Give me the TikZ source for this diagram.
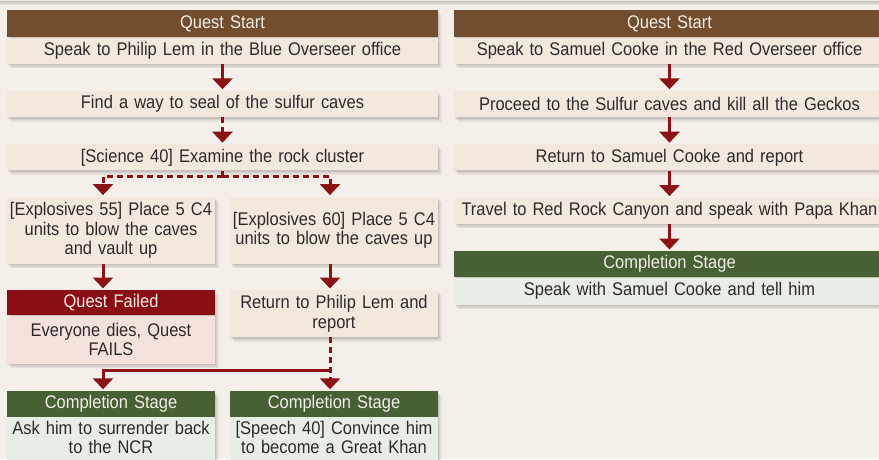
\documentclass[tikz,border=0pt]{standalone}
\usepackage{fontspec}
\setmainfont{Liberation Sans}[FakeStretch=0.9]
\usepackage{xcolor}
\usepackage{tikz}
\usetikzlibrary{positioning,arrows.meta,shadows}

\definecolor{pagebg}{HTML}{F5EFE9}
\definecolor{cardbg}{HTML}{F2E8DE}
\definecolor{startbrown}{HTML}{724E2F}
\definecolor{failred}{HTML}{8A0F14}
\definecolor{failbg}{HTML}{F5E1DB}
\definecolor{donegreen}{HTML}{476135}
\definecolor{donebg}{HTML}{E8EEE5}
\definecolor{linkred}{HTML}{8B1316}
\definecolor{inkgray}{HTML}{2B2B2B}
\definecolor{captext}{HTML}{F4EEE7}

\begin{document}
\begin{tikzpicture}[
  x=1pt, y=-1pt,
  every node/.style={font=\fontsize{18.3}{19.5}\selectfont, text=inkgray},
  soft/.style={general shadow={shadow xshift=1pt, shadow yshift=-1.5pt, fill=black, opacity=.07},
               general shadow={shadow xshift=2pt, shadow yshift=-3pt, fill=black, opacity=.07},
               general shadow={shadow xshift=3.5pt, shadow yshift=-4.5pt, fill=black, opacity=.06}},
  card/.style={soft, fill=cardbg, inner sep=0pt, minimum height=26pt, align=center},
  wide/.style={card, minimum width=431pt, text width=425pt},
  half/.style={card, minimum width=208pt, text width=204pt},
  startcap/.style={fill=startbrown, text=captext, minimum height=27pt},
  failcap/.style={fill=failred, text=captext, minimum height=25pt},
  donecap/.style={fill=donegreen, text=captext, minimum height=26pt},
  link/.style={line width=3pt, draw=linkred, shorten >=1.5pt,
               -{Triangle[width=20pt,length=11pt]}},
  dashlink/.style={link, dash pattern=on 6pt off 4pt},
  node distance=27pt
]

%% --- Page ----------------------------------------------------
\fill[pagebg] (0,0) rectangle (879,459);
\useasboundingbox (0,0) rectangle (879,459);
\node[card, minimum width=900pt, minimum height=40pt, anchor=south] (topcard) at (439.5,1) {};

%% --- Left column: Blue Overseer ------------------------------
\node[wide, startcap, anchor=north] (lstart) at (222.5,10) {Quest Start};
\node[wide, below=0pt of lstart] (lspeak) {Speak to Philip Lem in the Blue Overseer office};
\node[wide, below=of lspeak] (lfind) {Find a way to seal of the sulfur caves};
\node[wide, below=of lfind] (lsci) {[Science 40] Examine the rock cluster};

\node[half, minimum height=67pt, below right=26pt and 0pt of lsci.south west] (lex55)
     {[Explosives 55] Place 5 C4\\units to blow the caves\\and vault up};
\node[half, minimum height=67pt, below left=26pt and 0pt of lsci.south east] (lex60)
     {[Explosives 60] Place 5 C4\\units to blow the caves up};

\node[half, failcap, below=26pt of lex55] (lfailcap) {Quest Failed};
\node[half, fill=failbg, minimum height=48pt, below=0pt of lfailcap] (lfail)
     {Everyone dies, Quest\\FAILS};
\node[half, minimum height=47pt, below=26pt of lex60] (lret)
     {Return to Philip Lem and\\report};

\node[half, donecap, below=27pt of lfail] (lcompAcap) {Completion Stage};
\node[half, fill=donebg, minimum height=49pt, text depth=29pt, below=0pt of lcompAcap] (lcompA)
     {Ask him to surrender back\\to the NCR};
\node[half, donecap] (lcompBcap) at (lcompAcap -| lret) {Completion Stage};
\node[half, fill=donebg, minimum height=49pt, text depth=29pt, below=0pt of lcompBcap] (lcompB)
     {[Speech 40] Convince him\\to become a Great Khan};

%% --- Right column: Red Overseer ------------------------------
\node[wide, startcap, anchor=north] (rstart) at (669.5,10) {Quest Start};
\node[wide, below=0pt of rstart] (rspeak) {Speak to Samuel Cooke in the Red Overseer office};
\node[wide, below=of rspeak] (rgeckos) {Proceed to the Sulfur caves and kill all the Geckos};
\node[wide, below=of rgeckos] (rreport) {Return to Samuel Cooke and report};
\node[wide, below=of rreport] (rtravel) {Travel to Red Rock Canyon and speak with Papa Khan};
\node[wide, donecap, below=of rtravel] (rcompcap) {Completion Stage};
\node[wide, fill=donebg, minimum height=27pt, below=0pt of rcompcap] (rcomp)
     {Speak with Samuel Cooke and tell him};

%% --- Left links ----------------------------------------------
\draw[link] (lspeak) -- (lfind);
\draw[dashlink] (lfind) -- (lsci);

\coordinate (lsplit) at ([yshift=-6pt]lsci.south);
\draw[dashlink, -, shorten >=0pt] (lsci) -- (lsplit);
\draw[dashlink] (lsplit) -| ([xshift=-8pt]lex55.north);
\draw[dashlink] (lsplit) -| ([xshift=-4pt]lex60.north);

\draw[link] ([xshift=-8pt]lex55.south) -- ([xshift=-8pt]lfailcap.north);
\draw[link] ([xshift=-4pt]lex60.south) -- ([xshift=-4pt]lret.north);

\coordinate (ljoin) at ([xshift=-4pt, yshift=-33pt]lret.south);
\draw[link] (ljoin) -| ([xshift=-8pt]lcompAcap.north);
\draw[dashlink] ([xshift=-4pt]lret.south) -- ([xshift=-4pt]lcompBcap.north);

%% --- Right links ---------------------------------------------
\draw[link] (rspeak) -- (rgeckos);
\draw[link] (rgeckos) -- (rreport);
\draw[link] (rreport) -- (rtravel);
\draw[link] (rtravel) -- (rcompcap);

\end{tikzpicture}
\end{document}
